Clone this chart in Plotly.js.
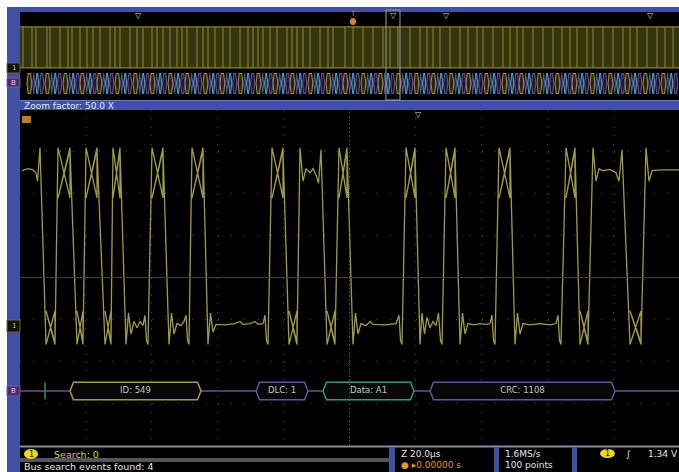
<!DOCTYPE html>
<html><head><meta charset="utf-8">
<script src="https://cdn.plot.ly/plotly-3.0.1.min.js"></script>
<style>html,body{margin:0;padding:0;background:#fff}#scope{width:679px;height:472px}</style>
</head><body><div id="scope"></div><script>
const W = 679, H = 472;
const px = x => x / W, py = y => 1 - y / H;

// Zoomed channel 1 acquisition: [time (µs), level (V)]
const ch1Trace = [
  [0.2,2.55],[0.8,2.6],[1.3,2.57],[1.6,2.5],[1.75,2.3],[2.0,3.1],
  [2.6,-1.6],[3.5,-0.8],[3.5,-1.6],[2.6,-0.8],[3.5,-1.55],
  [3.8,3.1],[5.0,1.9],[5.0,3.1],[3.8,1.9],[5.0,3.05],
  [5.7,-1.6],[6.3,-0.8],[6.3,-1.6],[5.7,-0.8],[6.3,-1.55],
  [6.6,3.1],[7.7,1.9],[7.7,3.1],[6.6,1.9],[7.7,3.05],
  [8.5,-1.6],[9.1,-0.8],[9.1,-1.6],[8.5,-0.8],[9.1,-1.55],
  [9.3,3.1],[10.0,1.9],[10.0,3.1],[9.3,1.9],[10.0,3.05],
  [10.6,-1.6],[10.85,-0.85],[11.1,-1.35],[11.4,-1.05],[11.7,-1.2],[12.0,-1.05],[12.3,-1.15],[12.5,-0.9],[12.65,-1.5],[12.8,-1.6],
  [13.2,3.1],[14.3,1.9],[14.3,3.1],[13.2,1.9],[14.3,3.05],
  [14.9,-1.6],[15.15,-0.85],[15.4,-1.35],[15.7,-1.1],[16.1,-1.15],[16.4,-1.05],[16.6,-0.9],[16.75,-1.5],[16.9,-1.6],
  [17.2,3.1],[18.3,1.9],[18.3,3.1],[17.2,1.9],[18.3,3.05],
  [18.8,-1.6],[19.05,-0.85],[19.3,-1.3],[19.6,-1.12],[20.5,-1.13],[21.5,-1.1],[22.0,-1.05],[22.3,-1.12],[23.0,-1.1],[23.5,-1.05],[23.8,-1.12],[24.3,-1.1],[24.5,-0.9],[24.65,-1.5],[24.8,-1.6],
  [25.2,3.1],[26.3,1.9],[26.3,3.1],[25.2,1.9],[26.3,3.05],
  [26.9,-1.6],[27.7,-0.8],[27.7,-1.6],[26.9,-0.8],[27.7,-1.55],
  [28.0,3.1],[28.3,2.3],[28.6,2.6],[29.0,2.5],[29.3,2.6],[29.6,2.45],[29.85,2.25],[30.1,3.05],
  [30.7,-1.6],[31.5,-0.8],[31.5,-1.6],[30.7,-0.8],[31.5,-1.55],
  [31.9,3.1],[32.7,1.9],[32.7,3.1],[31.9,1.9],[32.7,3.05],
  [33.3,-1.6],[33.55,-0.85],[33.8,-1.35],[34.1,-1.1],[34.6,-1.15],[35.0,-1.05],[35.3,-1.12],[36.5,-1.13],[37.6,-1.1],[37.9,-0.9],[38.05,-1.5],[38.2,-1.6],
  [38.6,3.1],[39.5,1.9],[39.5,3.1],[38.6,1.9],[39.5,3.05],
  [40.0,-1.6],[40.2,-0.85],[40.45,-1.35],[40.7,-0.95],[41.0,-1.2],[41.3,-1.05],[41.6,-1.15],[41.85,-0.85],[42.05,-1.5],[42.2,-1.6],
  [42.6,3.1],[43.5,1.9],[43.5,3.1],[42.6,1.9],[43.5,3.05],
  [44.0,-1.6],[44.25,-0.85],[44.5,-1.35],[44.8,-1.1],[45.4,-1.13],[46.0,-1.1],[46.6,-1.12],[47.0,-1.1],[47.2,-0.9],[47.35,-1.5],[47.5,-1.6],
  [47.9,3.1],[49.0,1.9],[49.0,3.1],[47.9,1.9],[49.0,3.05],
  [49.5,-1.6],[49.75,-0.85],[50.0,-1.35],[50.3,-1.1],[51.0,-1.13],[52.0,-1.1],[53.0,-1.13],[53.6,-1.1],[53.8,-0.9],[53.95,-1.5],[54.1,-1.6],
  [54.6,3.1],[55.5,1.9],[55.5,3.1],[54.6,1.9],[55.5,3.05],
  [56.0,-1.6],[56.8,-0.8],[56.8,-1.6],[56.0,-0.8],[56.8,-1.55],
  [57.3,3.1],[57.6,2.3],[57.9,2.6],[58.3,2.55],[59.0,2.58],[59.6,2.5],[59.9,2.3],[60.2,3.05],
  [61.0,-1.6],[62.1,-0.8],[62.1,-1.6],[61.0,-0.8],[62.1,-1.55],
  [62.6,3.1],[62.9,2.3],[63.2,2.55],[64.0,2.57],[65.9,2.57]
];

// Full record overview: channel 1 edge times (µs)
const overviewEdges = [15,60,80,135,150,200,240,260,300,335,365,400,450,475,500,550,585,615,660,685,715,750,785,810,835,885,915,940,975,1015,1050,1100,1140,1165,1190,1215,1250,1285,1335,1360,1385,1415,1450,1500,1540,1565,
  1625,1665,1715,1765,1815,1850,1890,1950,2000,2035,2065,2100,2150,2200,2240,2285,2315,2365,2415,2450,2485,2515,2565,2615,2665,2710,2750,2785,2835,2865,2915,2965,3015,3050,3085,3135,3185,3225,3265];
const overviewHigh = 2.57, overviewLow = -1.13;

// Full record overview: decoded CAN frame start times (µs) and field layout
const overviewFrames = [35,125,215,300,385,475,565,650,740,825,915,1000,1090,1180,1265,1350,1440,1530,1615,1705,1790,1880,1970,2055,2145,2230,2320,2410,2495,2585,2675,2760,2850,2940,3025,3115,3205];
const fieldStart = [0, 28, 43, 63];
const fieldEnd = [24, 39, 59, 84];
const fieldColor = ['#9a8e40', '#5e4c9a', '#4f9fb8', '#6c4c9a'];
const fieldFill = ['rgba(110,100,40,0.35)', 'rgba(80,60,130,0.35)', 'rgba(70,150,180,0.35)', 'rgba(90,60,130,0.35)'];
const overviewBusLevel = -2.53;

// Zoomed bus decode
const busLabels = ['ID: 549', 'DLC: 1', 'Data: A1', 'CRC: 1108'];
const busStart = [5.0, 23.6, 30.3, 41.0];
const busEnd = [18.1, 28.8, 39.4, 59.5];
const busColor = ['#a69a40', '#655494', '#3b938b', '#655494'];
const busLevel = -2.71;
const sofTime = 2.5;

const traces = [];

// bus line + frame fields (zoomed)
traces.push({x: [0, 65.9], y: [busLevel, busLevel], mode: 'lines', line: {color: '#635590', width: 1.5}, xaxis: 'x', yaxis: 'y', hoverinfo: 'skip'});
traces.push({x: [sofTime, sofTime], y: [busLevel - 0.2, busLevel + 0.2], mode: 'lines', line: {color: '#3a8f4c', width: 1.5}, xaxis: 'x', yaxis: 'y'});
const bev = 0.35, hh = 0.21;
busLabels.forEach((lab, i) => {
  const s = busStart[i], e = busEnd[i];
  traces.push({
    x: [s, s + bev, e - bev, e, e - bev, s + bev, s],
    y: [busLevel, busLevel + hh, busLevel + hh, busLevel, busLevel - hh, busLevel - hh, busLevel],
    mode: 'lines', fill: 'toself', fillcolor: '#080808',
    line: {color: busColor[i], width: 1.5}, xaxis: 'x', yaxis: 'y'
  });
});
traces.push({
  x: busLabels.map((l, i) => (busStart[i] + busEnd[i]) / 2), y: busLabels.map(() => busLevel),
  mode: 'text', text: busLabels, textfont: {family: 'DejaVu Sans', size: 8.5, color: '#c4c4c4'}, xaxis: 'x', yaxis: 'y'
});

// channel 1 zoomed waveform
traces.push({
  x: ch1Trace.map(p => p[0]), y: ch1Trace.map(p => p[1]),
  mode: 'lines', line: {color: '#9f9b46', width: 1.3}, xaxis: 'x', yaxis: 'y'
});

// overview waveform edges
const ex = [], ey = [];
overviewEdges.forEach(t => { ex.push(t, t, null); ey.push(overviewLow, overviewHigh, null); });
traces.push({x: [0, 3295, null, 0, 3295], y: [overviewHigh, overviewHigh, null, overviewLow, overviewLow], mode: 'lines', line: {color: '#86822f', width: 1.2}, xaxis: 'x2', yaxis: 'y2'});
traces.push({x: ex, y: ey, mode: 'lines', line: {color: '#8e8a34', width: 1}, xaxis: 'x2', yaxis: 'y2'});

// overview decoded fields
const ob = 6, oh = 0.9;
fieldStart.forEach((fs, k) => {
  const xs = [], ys = [];
  overviewFrames.forEach(f => {
    const s = f + fieldStart[k], e = f + fieldEnd[k];
    xs.push(s, s + ob, e - ob, e, e - ob, s + ob, s, null);
    ys.push(overviewBusLevel, overviewBusLevel + oh, overviewBusLevel + oh, overviewBusLevel, overviewBusLevel - oh, overviewBusLevel - oh, overviewBusLevel, null);
  });
  traces.push({x: xs, y: ys, mode: 'lines', fill: 'toself', fillcolor: fieldFill[k], line: {color: fieldColor[k], width: 1.1}, xaxis: 'x2', yaxis: 'y2'});
});

const blue = '#3f51a3';
const shapes = [
  // frame
  {type: 'rect', xref: 'paper', yref: 'paper', x0: px(7), x1: px(20), y0: 0, y1: py(7), fillcolor: blue, line: {width: 0}},
  {type: 'rect', xref: 'paper', yref: 'paper', x0: px(7), x1: 1, y0: py(12), y1: py(7), fillcolor: blue, line: {width: 0}},
  {type: 'rect', xref: 'paper', yref: 'paper', x0: px(20), x1: 1, y0: py(110), y1: py(100), fillcolor: '#3e50a6', line: {width: 0}},
  {type: 'line', xref: 'paper', yref: 'paper', x0: px(20), x1: 1, y0: py(100.5), y1: py(100.5), line: {color: '#6c7cc0', width: 1}},
  // overview persistence band
  {type: 'rect', xref: 'x2', yref: 'y2', x0: 0, x1: 3295, y0: overviewLow, y1: overviewHigh, fillcolor: '#34340f', line: {width: 0}, layer: 'below'},
  // zoom box
  {type: 'rect', xref: 'paper', yref: 'paper', x0: px(386), x1: px(400), y0: py(100), y1: py(10), line: {color: '#9a9a9a', width: 1}},
  // trigger position marker
  {type: 'circle', xref: 'paper', yref: 'paper', x0: px(350), x1: px(356), y0: py(25), y1: py(18), fillcolor: '#d8861c', line: {width: 0}},
  // main centre lines
  {type: 'line', xref: 'paper', yref: 'y', x0: px(20), x1: 1, y0: 0, y1: 0, line: {color: '#3e3e3e', width: 1}},
  {type: 'line', xref: 'x', yref: 'paper', x0: 32.95, x1: 32.95, y0: py(445), y1: py(110), line: {color: '#5a5a5a', width: 1, dash: '1px,3px'}},
  // status area
  {type: 'rect', xref: 'paper', yref: 'paper', x0: px(20), x1: 1, y0: 0, y1: py(445), fillcolor: '#000', line: {width: 0}},
  {type: 'line', xref: 'paper', yref: 'paper', x0: px(20), x1: 1, y0: py(446.5), y1: py(446.5), line: {color: '#8a8aa4', width: 2}},
  {type: 'line', xref: 'paper', yref: 'paper', x0: px(20), x1: px(389), y0: py(459), y1: py(459), line: {color: '#a8a8b8', width: 1}},
  {type: 'line', xref: 'paper', yref: 'paper', x0: px(20), x1: px(389), y0: py(461), y1: py(461), line: {color: '#a8a8b8', width: 1}},
  {type: 'rect', xref: 'paper', yref: 'paper', x0: px(389), x1: px(395), y0: 0, y1: py(447), fillcolor: blue, line: {width: 0}},
  {type: 'rect', xref: 'paper', yref: 'paper', x0: px(494), x1: px(499), y0: 0, y1: py(447), fillcolor: blue, line: {width: 0}},
  {type: 'rect', xref: 'paper', yref: 'paper', x0: px(572), x1: px(577), y0: 0, y1: py(447), fillcolor: blue, line: {width: 0}},
  // channel / bus markers on the left edge
  {type: 'rect', xref: 'paper', yref: 'paper', x0: px(7), x1: px(20), y0: py(73), y1: py(63), fillcolor: '#111', line: {color: '#6e6a2c', width: 1}},
  {type: 'rect', xref: 'paper', yref: 'paper', x0: px(7), x1: px(20), y0: py(87), y1: py(78), fillcolor: '#4a2f6a', line: {color: '#7a5aa0', width: 1}},
  {type: 'rect', xref: 'paper', yref: 'paper', x0: px(7), x1: px(20), y0: py(332), y1: py(320), fillcolor: '#111', line: {color: '#6e6a2c', width: 1}},
  {type: 'rect', xref: 'paper', yref: 'paper', x0: px(7), x1: px(20), y0: py(396), y1: py(386), fillcolor: '#4a2f6a', line: {color: '#7a5aa0', width: 1}},
  // main-window channel badge
  {type: 'rect', xref: 'paper', yref: 'paper', x0: px(22), x1: px(31), y0: py(123), y1: py(116), fillcolor: '#c07a22', line: {width: 0}},
  // status icons
  {type: 'circle', xref: 'paper', yref: 'paper', x0: px(24), x1: px(38), y0: py(459), y1: py(449), fillcolor: '#e8d820', line: {width: 0}},
  {type: 'circle', xref: 'paper', yref: 'paper', x0: px(600), x1: px(615), y0: py(458), y1: py(449), fillcolor: '#e8d820', line: {width: 0}}
];

const ann = (x, y, text, color, size, anchor) => ({
  xref: 'paper', yref: 'paper', x: px(x), y: py(y), text, showarrow: false,
  xanchor: anchor || 'left', yanchor: 'middle',
  font: {family: 'DejaVu Sans', size: size || 9, color: color || '#e0e0e0'}
});

const annotations = [
  ann(22, 105.5, 'Zoom factor: 50.0 X', '#e6e6f0', 9),
  ann(138, 15, '▽', '#d0d0d0', 8, 'center'),
  ann(353, 14, 'T', '#e08a20', 7, 'center'),
  ann(393, 15, '▽', '#d0d0d0', 8, 'center'),
  ann(446, 15, '▽', '#d0d0d0', 8, 'center'),
  ann(650, 15, '▽', '#d0d0d0', 8, 'center'),
  ann(418, 114, '▽', '#d0d0d0', 8, 'center'),
  ann(13.5, 68, '1', '#c8c060', 7, 'center'),
  ann(13.5, 82.5, 'B', '#e0d0f0', 7, 'center'),
  ann(13.5, 326, '1', '#c8c060', 7, 'center'),
  ann(13.5, 391, 'B', '#e0d0f0', 7, 'center'),
  ann(31, 454, '1', '#202000', 8, 'center'),
  ann(52, 454, 'Search: 0', '#d8cc40', 9.5),
  ann(22, 466.5, 'Bus search events found: 4', '#e6e6e6', 9.5),
  ann(399, 453.5, 'Z 20.0µs', '#e6e6e6', 9),
  ann(399, 465, '● ▸0.00000 s', '#e0962a', 9),
  ann(503, 453.5, '1.6MS/s', '#e6e6e6', 9),
  ann(503, 465, '100 points', '#e6e6e6', 9),
  ann(607.5, 453.5, '1', '#202000', 8, 'center'),
  ann(624, 453.5, '∫', '#e6e6e6', 9),
  ann(646, 453.5, '1.34 V', '#e6e6e6', 9)
];

const layout = {
  width: W, height: H, margin: {l: 0, r: 0, t: 0, b: 0},
  paper_bgcolor: '#ffffff', plot_bgcolor: '#000000', showlegend: false,
  xaxis: {domain: [px(20), 1], range: [0, 65.9], tick0: 0, dtick: 6.59, showgrid: true, gridcolor: '#4e4e4e', gridwidth: 1, griddash: '1px,7.4px', zeroline: false, showticklabels: false, ticks: '', showline: false, anchor: 'y', fixedrange: true},
  yaxis: {domain: [py(445), py(110)], range: [-4, 4], tick0: 0, dtick: 1, showgrid: true, gridcolor: '#4e4e4e', gridwidth: 1, griddash: '1px,12.2px', zeroline: false, showticklabels: false, ticks: '', showline: false, anchor: 'x', fixedrange: true},
  xaxis2: {domain: [px(20), 1], range: [0, 3295], showgrid: false, zeroline: false, showticklabels: false, ticks: '', anchor: 'y2', fixedrange: true},
  yaxis2: {domain: [py(100), py(12)], range: [-4.02, 3.92], showgrid: false, zeroline: false, showticklabels: false, ticks: '', anchor: 'x2', fixedrange: true},
  shapes, annotations
};

Plotly.newPlot('scope', traces, layout, {staticPlot: true, displayModeBar: false});
</script></body></html>
